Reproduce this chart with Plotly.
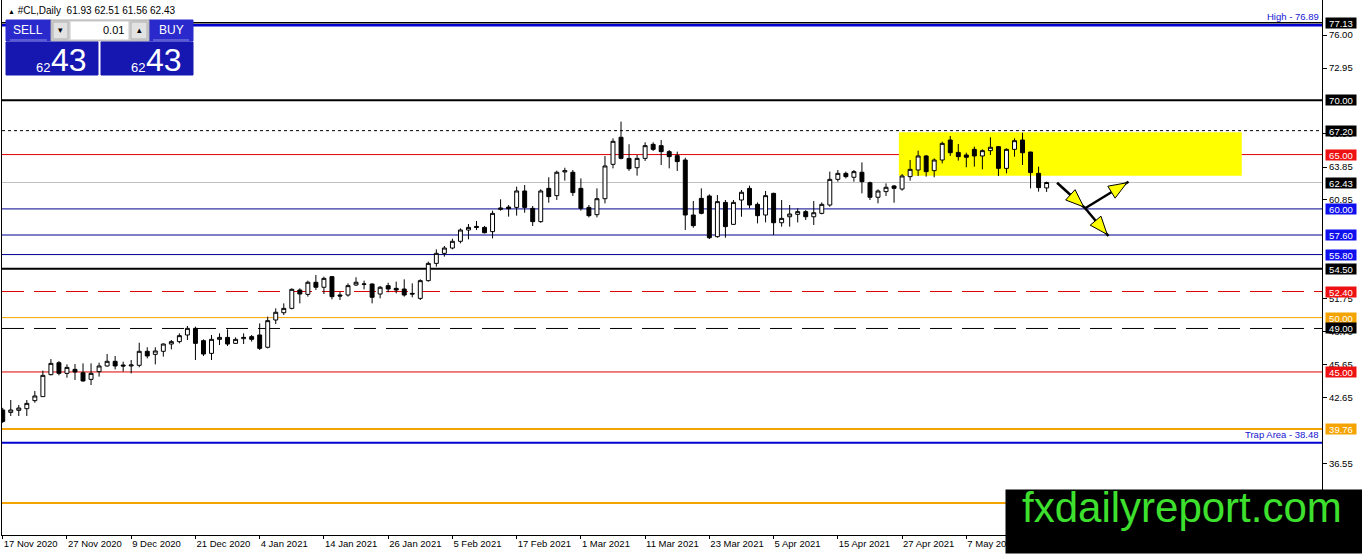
import pandas as pd
import plotly.graph_objects as go

# ---------------------------------------------------------------- data
# trading days shown on the chart (daily bars, exchange holidays skipped)
holidays = ["2020-12-25", "2021-01-01", "2021-04-02"]
dates = pd.bdate_range("2020-11-17", "2021-05-21", freq="C", holidays=holidays)

open_ = [41.50, 41.28, 41.47, 41.62, 42.36, 42.73, 44.75, 45.85, 44.87, 45.24,
         44.93, 44.32, 45.03, 45.55, 45.98, 45.64, 45.55, 45.61, 46.90, 46.62,
         46.90, 47.57, 47.79, 48.40, 49.01, 47.88, 46.71, 48.00, 48.18, 47.63,
         48.06, 48.25, 48.40, 47.27, 49.78, 50.45, 50.85, 52.54, 52.14, 53.25,
         52.79, 53.77, 52.08, 52.08, 53.00, 53.06, 53.09, 52.17, 52.94, 52.69,
         52.63, 52.23, 51.77, 53.40, 54.99, 55.91, 56.40, 57.02, 58.06, 58.39,
         58.30, 57.91, 59.96, 60.17, 60.14, 61.65, 60.05, 58.83, 61.89, 61.22,
         63.40, 63.37, 61.89, 60.14, 59.47, 60.94, 64.10, 66.59, 64.65, 63.79,
         64.65, 65.94, 65.82, 65.27, 64.90, 64.50, 59.44, 60.97, 61.19, 57.45,
         60.60, 58.58, 60.82, 61.89, 60.42, 59.44, 61.43, 58.73, 59.28, 59.50,
         59.75, 59.28, 59.59, 60.36, 62.72, 63.27, 62.91, 63.37, 62.41, 61.07,
         61.59, 62.11, 61.83, 62.97, 63.58, 64.87, 63.52, 64.50, 66.34, 65.20,
         64.96, 65.48, 64.87, 65.36, 65.73, 63.73, 65.48, 66.34, 65.23, 63.27,
         61.93]
high = [41.70, 42.42, 41.96, 42.42, 43.25, 45.12, 46.19, 46.00, 45.70, 45.73,
        45.79, 45.79, 45.85, 46.65, 46.47, 45.95, 46.10, 47.69, 47.27, 47.27,
        47.63, 47.94, 48.55, 49.23, 49.17, 48.00, 48.40, 48.55, 48.92, 48.18,
        48.55, 48.40, 49.47, 50.09, 50.85, 51.31, 52.69, 52.69, 53.40, 53.92,
        53.77, 53.83, 52.39, 53.15, 53.71, 53.40, 53.15, 52.91, 53.21, 53.31,
        53.52, 53.15, 53.52, 55.15, 56.28, 56.59, 57.26, 58.21, 58.61, 58.89,
        58.43, 59.84, 60.88, 60.36, 62.05, 62.20, 60.27, 61.80, 62.91, 63.52,
        63.79, 63.58, 62.81, 60.36, 61.89, 64.87, 66.49, 68.03, 65.95, 64.96,
        66.13, 66.13, 66.34, 65.42, 65.27, 64.71, 60.73, 61.89, 61.34, 61.28,
        60.82, 60.82, 61.74, 62.14, 60.60, 61.65, 61.49, 60.82, 60.36, 60.05,
        59.90, 60.73, 60.60, 63.43, 63.58, 63.43, 63.58, 64.28, 62.51, 61.80,
        62.35, 62.20, 63.21, 64.50, 65.36, 64.96, 64.65, 66.19, 66.71, 65.97,
        65.17, 65.73, 65.48, 66.59, 65.79, 65.57, 66.49, 67.01, 65.27, 63.89,
        62.51]
low = [40.30, 40.95, 40.95, 40.95, 42.17, 42.73, 44.69, 44.69, 44.47, 44.26,
       44.11, 43.80, 44.57, 45.49, 45.24, 45.03, 44.87, 45.43, 46.25, 45.70,
       46.41, 47.08, 47.63, 47.94, 46.10, 46.47, 46.10, 47.48, 47.39, 47.57,
       47.57, 47.79, 47.02, 47.17, 49.41, 50.24, 50.76, 51.31, 51.93, 52.54,
       52.17, 51.68, 51.62, 51.93, 52.91, 52.60, 51.31, 51.77, 52.33, 52.23,
       51.93, 51.87, 51.62, 53.31, 54.69, 55.61, 56.28, 56.83, 57.20, 58.06,
       57.75, 57.29, 59.84, 59.29, 59.38, 59.65, 58.43, 58.73, 60.57, 60.82,
       62.60, 61.19, 59.84, 59.22, 59.22, 60.51, 63.73, 64.56, 63.50, 63.06,
       64.41, 65.33, 64.04, 63.73, 63.49, 58.06, 58.27, 59.50, 57.23, 57.35,
       57.35, 58.52, 59.28, 60.05, 58.67, 58.76, 57.60, 58.37, 58.37, 58.76,
       58.98, 58.52, 59.50, 60.20, 62.51, 62.81, 62.51, 61.43, 60.82, 60.51,
       61.19, 60.57, 61.68, 62.60, 63.03, 62.97, 62.91, 64.19, 64.87, 64.44,
       63.83, 63.89, 63.64, 64.96, 63.03, 63.27, 64.81, 64.04, 61.89, 61.59,
       61.56]
close = [40.45, 41.50, 41.68, 42.11, 42.79, 44.69, 45.79, 44.87, 45.42, 45.00,
         44.17, 44.87, 45.55, 45.98, 45.55, 45.55, 45.64, 46.90, 46.47, 46.93,
         47.57, 47.79, 48.34, 49.01, 47.63, 46.65, 48.00, 48.18, 47.57, 48.00,
         48.18, 48.00, 47.17, 49.72, 50.49, 50.85, 52.60, 52.17, 53.25, 52.79,
         53.61, 51.93, 51.99, 52.94, 53.25, 53.09, 51.87, 52.79, 52.63, 52.54,
         52.08, 52.17, 53.40, 54.99, 55.91, 56.40, 57.02, 58.06, 58.30, 58.30,
         57.81, 59.59, 60.08, 60.02, 61.65, 60.14, 58.83, 61.65, 61.13, 63.37,
         63.52, 61.50, 60.05, 59.38, 60.94, 63.95, 66.22, 64.65, 63.70, 64.65,
         65.82, 65.48, 65.27, 64.81, 64.35, 59.44, 58.46, 59.59, 57.35, 60.67,
         58.37, 60.60, 61.53, 60.36, 59.38, 61.22, 58.73, 59.13, 59.53, 59.75,
         59.28, 59.65, 60.42, 62.72, 63.27, 62.97, 63.43, 62.51, 61.07, 61.65,
         61.99, 61.89, 63.03, 63.64, 64.87, 63.43, 64.50, 66.03, 65.17, 64.81,
         64.75, 64.87, 65.36, 65.67, 63.73, 65.48, 66.28, 65.17, 63.34, 61.96,
         62.43]

# horizontal levels drawn by hand on the chart
levels = [77.13, 76.89, 70.00, 67.20, 65.00, 62.43, 60.00, 57.60, 55.80, 54.50,
          52.40, 50.00, 49.00, 45.00, 39.76, 38.48, 32.95]
# price scale ticks on the right (those fully hidden by level badges left out)
price_ticks = [76.00, 72.95, 66.90, 63.85, 60.85, 51.75, 48.70, 45.65, 42.65, 36.55]

# yellow consolidation box and drawn arrows (bar index, price)
zone_bars = [111.6, 154.3]
zone_prices = [63.05, 67.05]
arrow_start = (131.3, 62.41)
arrow_pivot = (134.8, 60.06)
arrow_up = (140.2, 62.50)
arrow_down = (137.7, 57.51)

symbol = "#CL,Daily"
bid = "62.43"

# ---------------------------------------------------------------- styles
# (colour, width, dash, badge colour) per level
level_style = [
    ("black", 1.5, "solid", "black"),
    ("#0000d0", 2.5, "solid", None),
    ("black", 2, "solid", "black"),
    ("black", 1, "dot", "black"),
    ("#e00000", 1, "solid", "#ee1111"),
    ("#c0c0c0", 1, "solid", "black"),
    ("#000090", 1, "solid", "#1010ee"),
    ("#000090", 1, "solid", "#1010ee"),
    ("#000090", 1, "solid", "#1010ee"),
    ("black", 2, "solid", "black"),
    ("#e00000", 1, "22px,10px", "#ee1111"),
    ("#f5a300", 1, "solid", "#f5a300"),
    ("black", 1, "22px,10px", "black"),
    ("#e00000", 1, "solid", "#ee1111"),
    ("#f5a300", 2, "solid", "#f5a300"),
    ("#0000d0", 2, "solid", None),
    ("#f5a300", 2, "solid", None),
]

W, H = 1362, 554
ML, MR, MT, MB = 2, 40, 0, 19
PW, PH = W - ML - MR, H - MT - MB
bar_px = 8.03
x_range = [-0.09, -0.09 + PW / bar_px]
y_range = [30.0, 79.22]
FONT = "Liberation Sans"


def xp(px):
    return (px - ML) / PW


def yp(py):
    return (H - MB - py) / PH


def to_px(b, p):
    x = ML + (b - x_range[0]) / (x_range[1] - x_range[0]) * PW
    y = MT + (y_range[1] - p) / (y_range[1] - y_range[0]) * PH
    return x, y


def to_data(x, y):
    b = x_range[0] + (x - ML) / PW * (x_range[1] - x_range[0])
    p = y_range[1] - (y - MT) / PH * (y_range[1] - y_range[0])
    return b, p


def head_path(a, b, length=18, half=7):
    ax, ay = to_px(*a)
    bx, by = to_px(*b)
    dx, dy = bx - ax, by - ay
    n = (dx ** 2 + dy ** 2) ** 0.5
    ux, uy = dx / n, dy / n
    tip = (bx - ux * 2, by - uy * 2)
    base = (tip[0] - ux * length, tip[1] - uy * length)
    c1 = to_data(base[0] - uy * half, base[1] + ux * half)
    c2 = to_data(base[0] + uy * half, base[1] - ux * half)
    t = to_data(*tip)
    return "M %f,%f L %f,%f L %f,%f Z" % (t[0], t[1], c1[0], c1[1], c2[0], c2[1])


idx = list(range(len(dates)))
tick_idx = idx[::8]
tick_text = ["%d %s" % (dates[i].day, dates[i].strftime("%b %Y")) for i in tick_idx]

fig = go.Figure()
fig.add_trace(go.Candlestick(
    x=idx, open=open_, high=high, low=low, close=close,
    increasing=dict(line=dict(color="black", width=1), fillcolor="white"),
    decreasing=dict(line=dict(color="black", width=1), fillcolor="black"),
    whiskerwidth=0, showlegend=False, hoverinfo="skip"))

shapes = []
annotations = []

# yellow zone
shapes.append(dict(type="rect", xref="x", yref="y", x0=zone_bars[0], x1=zone_bars[1],
                   y0=zone_prices[0], y1=zone_prices[1], fillcolor="#ffff00",
                   line=dict(width=0), layer="below"))

# level lines + price badges
for lv, (col, w, dash, badge) in zip(levels, level_style):
    shapes.append(dict(type="line", xref="paper", yref="y", x0=0, x1=1, y0=lv, y1=lv,
                       line=dict(color=col, width=w, dash=dash), layer="below"))
    if badge:
        annotations.append(dict(xref="paper", yref="y", x=1, y=lv, xanchor="left",
                                yanchor="middle", xshift=3, text="%.2f" % lv,
                                showarrow=False, bgcolor=badge, width=30, height=10,
                                borderpad=0, font=dict(family=FONT, size=9.5, color="white")))

annotations.append(dict(xref="paper", yref="y", x=1, y=levels[1], xanchor="right",
                        yanchor="bottom", xshift=-1, yshift=1, text="High - %.2f" % levels[1],
                        showarrow=False, font=dict(family=FONT, size=9.5, color="#1515d0")))
annotations.append(dict(xref="paper", yref="y", x=1, y=levels[15], xanchor="right",
                        yanchor="bottom", xshift=-1, yshift=1,
                        text="Trap Area - %.2f" % levels[15],
                        showarrow=False, font=dict(family=FONT, size=9.5, color="#1515d0")))

# arrows
for a, b in [(arrow_start, arrow_pivot), (arrow_pivot, arrow_up), (arrow_pivot, arrow_down)]:
    shapes.append(dict(type="line", xref="x", yref="y", x0=a[0], y0=a[1], x1=b[0], y1=b[1],
                       line=dict(color="black", width=2.5), layer="above"))
    shapes.append(dict(type="path", xref="x", yref="y", path=head_path(a, b),
                       fillcolor="#ffff00", line=dict(color="black", width=1), layer="above"))

# one-click trading panel
def rect(x0, y0, x1, y1, fill, line=None):
    shapes.append(dict(type="rect", xref="paper", yref="paper", x0=xp(x0), x1=xp(x1),
                       y0=yp(y1), y1=yp(y0), fillcolor=fill,
                       line=dict(color=line or fill, width=1), layer="above"))


def label(x, y, text, size, color, anchor="center"):
    annotations.append(dict(xref="paper", yref="paper", x=xp(x), y=yp(y), text=text,
                            xanchor=anchor, yanchor="middle", showarrow=False,
                            font=dict(family=FONT, size=size, color=color)))


rect(6, 20, 51, 41, "#2a2acc")
rect(149, 20, 193, 41, "#2a2acc")
rect(51, 20, 149, 41, "#d4d4d4", "#a8a8a8")
rect(70, 21, 129, 40, "white", "#c8c8c8")
rect(53, 22, 68, 39, "#e2e2e2", "#b0b0b0")
rect(131, 22, 147, 39, "#e2e2e2", "#b0b0b0")
rect(6, 42, 98, 75, "#1616b0")
rect(101, 42, 193, 75, "#1616b0")
shapes.append(dict(type="line", xref="paper", yref="paper", x0=xp(10), x1=xp(47),
                   y0=yp(40), y1=yp(40), line=dict(color="#8c8ce8", width=1), layer="above"))
shapes.append(dict(type="line", xref="paper", yref="paper", x0=xp(153), x1=xp(189),
                   y0=yp(40), y1=yp(40), line=dict(color="#8c8ce8", width=1), layer="above"))
label(28, 30, "SELL", 12, "white")
label(171, 30, "BUY", 12, "white")
label(126, 30, "0.01", 11, "black", "right")
label(60.5, 30, "▾", 9, "black")
label(139, 30, "▴", 9, "black")
for x0 in (34, 129):
    label(x0, 67.5, bid[:2], 13, "white", "left")
    label(x0 + 15, 59.5, bid[3:], 32, "white", "left")

# chart header
annotations.append(dict(xref="paper", yref="paper", x=xp(6), y=yp(10), xanchor="left",
                        yanchor="middle", showarrow=False,
                        text="<span style='font-size:7px'>▲</span> %s  %.2f %.2f %.2f %.2f"
                        % (symbol, open_[-1], high[-1], low[-1], close[-1]),
                        font=dict(family=FONT, size=10, color="black")))

# watermark
annotations.append(dict(xref="paper", yref="paper", x=xp(1005), y=yp(554), xanchor="left",
                        yanchor="bottom", text=" ", showarrow=False, bgcolor="black",
                        width=357, height=63, borderpad=0, font=dict(size=10)))
annotations.append(dict(xref="paper", yref="paper", x=xp(1182), y=yp(507), xanchor="center",
                        yanchor="middle", text="fxdailyreport.com", showarrow=False,
                        font=dict(family=FONT, size=42, color="#3ee02e")))

fig.update_layout(
    width=W, height=H,
    margin=dict(l=ML, r=MR, t=MT, b=MB),
    paper_bgcolor="white", plot_bgcolor="white",
    showlegend=False, hovermode=False,
    font=dict(family=FONT, size=9.5, color="black"),
    shapes=shapes, annotations=annotations,
    xaxis=dict(range=x_range, tickvals=tick_idx, ticktext=tick_text, ticks="outside",
               ticklen=3, tickcolor="black", ticklabelposition="outside right",
               showgrid=False, zeroline=False, showline=True, linecolor="black",
               linewidth=1, mirror=True, rangeslider=dict(visible=False),
               tickfont=dict(family=FONT, size=9.5)),
    yaxis=dict(range=y_range, side="right", tickvals=price_ticks,
               ticktext=["%.2f" % t for t in price_ticks], ticks="outside", ticklen=4,
               tickcolor="black", showgrid=False, zeroline=False, showline=True,
               linecolor="black", linewidth=1, mirror=True,
               tickfont=dict(family=FONT, size=9.5)),
)

# the page body has a default 8px margin; drop it so the figure sits at the window corner
fig.write_html("out.html", config={"displayModeBar": False},
               post_script="document.body.style.margin='0';")
